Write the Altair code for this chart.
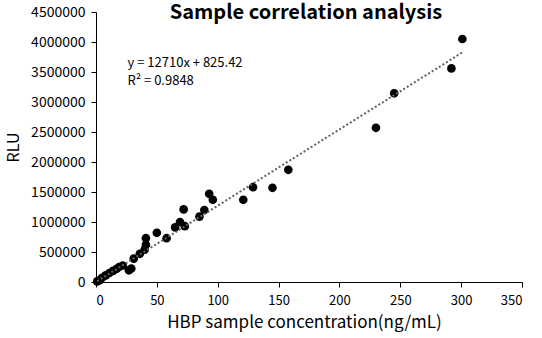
import altair as alt
import pandas as pd

conc = [1, 3, 5, 8, 11, 14, 17, 19, 22, 27, 29, 31, 36, 40, 41, 41, 50, 58, 65, 69,
        73, 72, 85, 89, 93, 96, 121, 129, 145, 158, 230, 245, 292, 301]
rlu = [10000, 30000, 70000, 110000, 150000, 185000, 220000, 250000, 275000, 195000,
       225000, 390000, 470000, 540000, 620000, 730000, 820000, 730000, 910000, 1000000,
       930000, 1210000, 1090000, 1200000, 1470000, 1370000, 1370000, 1580000, 1570000,
       1870000, 2570000, 3145000, 3560000, 4050000]
slope = 12710
intercept = 825.42
eq_lines = ["y = 12710x + 825.42", "R² = 0.9848"]
title_text = "Sample correlation analysis"
x_ticks = [0, 50, 100, 150, 200, 250, 300, 350]
y_ticks = [0, 500000, 1000000, 1500000, 2000000, 2500000, 3000000, 3500000, 4000000, 4500000]

FONT = "Noto Sans CJK SC"
df = pd.DataFrame({"x": conc, "y": rlu})

xs = alt.Scale(domain=[0, 350], nice=False)
ys = alt.Scale(domain=[0, 4500000], nice=False)

x_axis = alt.Axis(values=x_ticks, title="HBP sample concentration(ng/mL)",
                  grid=False, domainColor="black", tickColor="black",
                  tickSize=5, labelFontSize=13, titleFontSize=17,
                  labelFont=FONT, titleFont=FONT, titleFontWeight="normal",
                  labelColor="black", titleColor="black", labelPadding=7,
                  titlePadding=7, labelOverlap=False, titleX=208)
y_axis = alt.Axis(values=y_ticks, format="d", title="RLU", grid=False,
                  domainColor="black", tickColor="black", tickSize=5,
                  labelFontSize=14, titleFontSize=16, labelFont=FONT,
                  titleFont=FONT, titleFontWeight="normal", labelColor="black",
                  titleColor="black", labelPadding=6, titlePadding=9,
                  labelOverlap=False)

base = alt.Chart(df)

pts = base.mark_circle(size=75, color="black", opacity=1).encode(
    x=alt.X("x:Q", scale=xs, axis=x_axis),
    y=alt.Y("y:Q", scale=ys, axis=y_axis),
)

trend = base.transform_calculate(
    fit=f"{slope} * datum.x + {intercept}"
).mark_line(color="#606060", strokeDash=[2, 2.2], strokeWidth=2).encode(
    x=alt.X("x:Q", scale=xs, axis=x_axis),
    y=alt.Y("fit:Q", scale=ys, axis=y_axis),
    order="x:Q",
)

ann = alt.Chart(pd.DataFrame({"t": [eq_lines]})).mark_text(
    align="left", baseline="alphabetic", fontSize=13, font=FONT, color="black",
    lineHeight=18
).encode(x=alt.value(31.5), y=alt.value(55), text="t")

ttl = alt.Chart(pd.DataFrame({"t": [title_text]})).mark_text(
    align="center", baseline="alphabetic", fontSize=20, font=FONT,
    fontWeight="bold", color="black"
).encode(x=alt.value(210), y=alt.value(6.5), text="t")

chart = alt.layer(pts, trend, ann, ttl).properties(
    width=426, height=270,
    autosize=alt.AutoSizeParams(type="none"),
    padding={"left": 96, "top": 12, "right": 20, "bottom": 56},
).configure_view(stroke=None)

chart.save("out.html", embed_options={"renderer": "svg", "actions": False})
